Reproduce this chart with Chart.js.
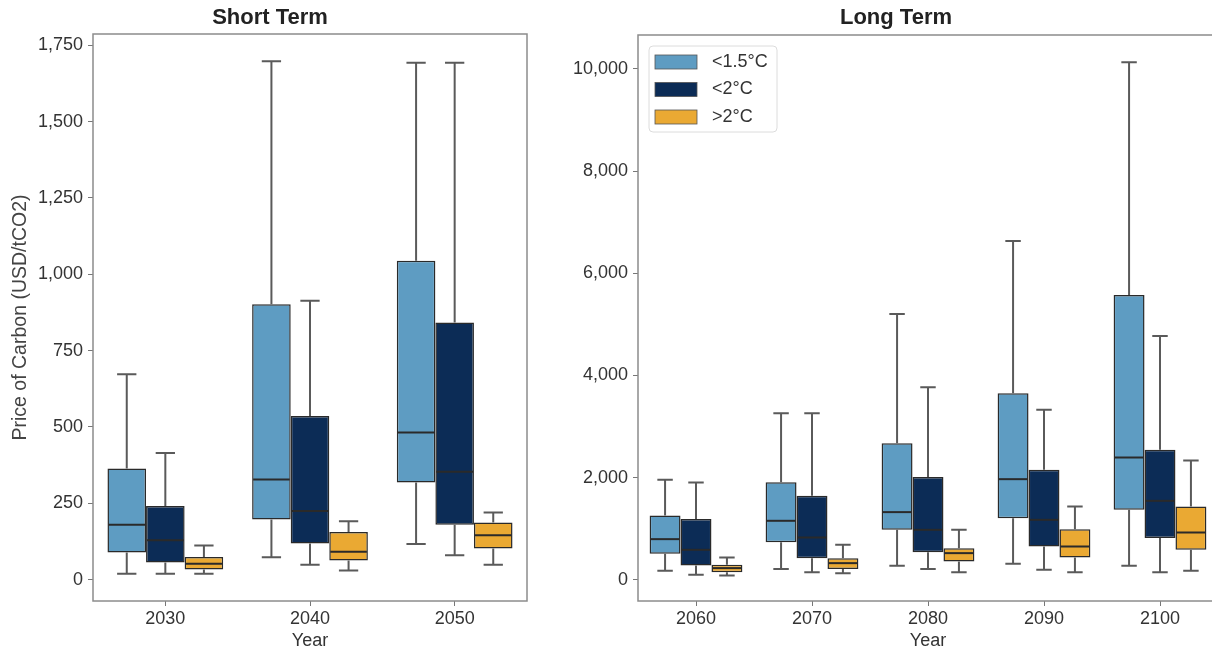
<!DOCTYPE html>
<html>
<head>
<meta charset="utf-8">
<script src="https://cdn.jsdelivr.net/npm/chart.js@4.4.1/dist/chart.umd.min.js"></script>
<style>
    html, body { margin: 0; padding: 0; background: #fff; overflow: hidden; }
    body { width: 1212px; height: 652px; position: relative; }
    .panel { position: absolute; top: 0; height: 652px; }
    #shortWrap { left: 0; width: 540px; }
    #longWrap { left: 540px; width: 680px; }
</style>
</head>
<body>
<div class="panel" id="shortWrap"><canvas id="shortChart"></canvas></div>
<div class="panel" id="longWrap"><canvas id="longChart"></canvas></div>

<script>
const seriesLabels = ['<1.5°C', '<2°C', '>2°C'];
const seriesColors = ['#5e9cc2', '#0c2c56', '#eaa933'];

// each entry: [lower whisker, Q1, median, Q3, upper whisker]
const shortYears = ['2030', '2040', '2050'];
const shortTicks = [0, 250, 500, 750, 1000, 1250, 1500, 1750];
const short15 = [[19, 89, 180, 364, 673], [73, 197, 328, 902, 1698], [117, 318, 482, 1044, 1693]];
const short2 = [[19, 56, 129, 241, 415], [49, 118, 225, 536, 913], [80, 180, 353, 842, 1693]];
const shortOver2 = [[19, 33, 52, 74, 112], [30, 63, 91, 156, 191], [49, 102, 145, 187, 220]];

const longYears = ['2060', '2070', '2080', '2090', '2100'];
const longTicks = [0, 2000, 4000, 6000, 8000, 10000];
const long15 = [[176, 509, 796, 1258, 1957], [209, 737, 1155, 1912, 3262], [274, 978, 1325, 2675, 5205], [313, 1207, 1970, 3653, 6634], [274, 1370, 2394, 5577, 10131]];
const long2 = [[98, 280, 587, 1188, 1904], [150, 424, 828, 1644, 3262], [209, 541, 978, 2010, 3771], [196, 652, 1174, 2153, 3327], [150, 816, 1546, 2544, 4775]];
const longOver2 = [[84, 150, 229, 294, 436], [130, 209, 326, 424, 685], [150, 358, 522, 620, 978], [150, 436, 652, 992, 1435], [176, 587, 926, 1435, 2335]];

Chart.defaults.font.family = "'Liberation Sans', Arial, sans-serif";
Chart.defaults.color = '#333';

// whiskers, caps and median lines on top of the floating bars
const boxPlotPlugin = {
    id: 'boxPlot',
    afterDatasetsDraw(chart) {
        const ctx = chart.ctx;
        const y = chart.scales.y;
        chart.data.datasets.forEach((ds, i) => {
            const meta = chart.getDatasetMeta(i);
            meta.data.forEach((bar, j) => {
                const [lo, q1, med, q3, hi] = ds.stats[j];
                const x = bar.x;
                const half = bar.width / 2;
                const cap = bar.width / 4;
                ctx.save();
                ctx.strokeStyle = '#5a5a5a';
                ctx.lineWidth = 2;
                ctx.beginPath();
                ctx.moveTo(x, y.getPixelForValue(q3));
                ctx.lineTo(x, y.getPixelForValue(hi));
                ctx.moveTo(x - cap, y.getPixelForValue(hi));
                ctx.lineTo(x + cap, y.getPixelForValue(hi));
                ctx.moveTo(x, y.getPixelForValue(q1));
                ctx.lineTo(x, y.getPixelForValue(lo));
                ctx.moveTo(x - cap, y.getPixelForValue(lo));
                ctx.lineTo(x + cap, y.getPixelForValue(lo));
                ctx.stroke();
                ctx.strokeStyle = '#2a2a2a';
                ctx.lineWidth = 2;
                ctx.beginPath();
                ctx.moveTo(x - half + 1, y.getPixelForValue(med));
                ctx.lineTo(x + half - 1, y.getPixelForValue(med));
                ctx.stroke();
                ctx.restore();
            });
        });
    }
};

// frame, panel title and (optionally) the legend box
const panelDecorPlugin = {
    id: 'panelDecor',
    afterDraw(chart, args, opts) {
        const ctx = chart.ctx;
        const a = chart.chartArea;
        ctx.save();
        ctx.strokeStyle = '#8c8c8c';
        ctx.lineWidth = 1.5;
        ctx.strokeRect(a.left, a.top, a.right - a.left, a.bottom - a.top);

        ctx.fillStyle = '#222';
        ctx.font = "bold 22px 'Liberation Sans', Arial, sans-serif";
        ctx.textAlign = 'center';
        ctx.textBaseline = 'middle';
        ctx.fillText(opts.title, opts.titleX, opts.titleY);

        if (opts.legend) {
            const lx = a.left + 11, ly = a.top + 11;
            ctx.fillStyle = 'rgba(255,255,255,0.85)';
            ctx.strokeStyle = '#dcdcdc';
            ctx.lineWidth = 1;
            ctx.beginPath();
            ctx.roundRect(lx, ly, 128, 86, 4);
            ctx.fill();
            ctx.stroke();
            ctx.font = "18px 'Liberation Sans', Arial, sans-serif";
            ctx.textAlign = 'left';
            chart.data.datasets.forEach((ds, i) => {
                const cy = ly + 16 + i * 27.5;
                ctx.fillStyle = ds.backgroundColor;
                ctx.fillRect(lx + 6, cy - 7, 42, 14);
                ctx.strokeStyle = '#555';
                ctx.lineWidth = 0.8;
                ctx.strokeRect(lx + 6, cy - 7, 42, 14);
                ctx.fillStyle = '#333';
                ctx.fillText(ds.label, lx + 63, cy);
            });
        }
        ctx.restore();
    }
};

function makeDatasets(groups) {
    return groups.map((stats, i) => ({
        label: seriesLabels[i],
        data: stats.map(s => [s[1], s[3]]),
        stats: stats,
        backgroundColor: seriesColors[i],
        borderColor: '#2a2a2a',
        borderWidth: 1.5,
        borderSkipped: false,
        categoryPercentage: 0.8,
        barPercentage: 1.0
    }));
}

function makeChart(canvasId, years, groups, ticks, yMin, yMax, cfg) {
    const ctx = document.getElementById(canvasId).getContext('2d');
    return new Chart(ctx, {
        type: 'bar',
        data: {
            labels: years,
            datasets: makeDatasets(groups)
        },
        options: {
            responsive: true,
            maintainAspectRatio: false,
            animation: false,
            layout: {
                padding: { top: cfg.top, right: cfg.right, left: 0, bottom: 0 }
            },
            plugins: {
                legend: { display: false },
                tooltip: { enabled: false },
                title: { display: false },
                panelDecor: {
                    title: cfg.title,
                    titleX: cfg.titleX,
                    titleY: 18,
                    legend: cfg.legend
                }
            },
            scales: {
                x: {
                    type: 'category',
                    offset: true,
                    grid: {
                        offset: false,
                        drawOnChartArea: false,
                        tickLength: 5,
                        color: '#777'
                    },
                    border: { display: false },
                    ticks: {
                        font: { size: 18 },
                        color: '#333',
                        padding: 2,
                        maxRotation: 0
                    },
                    title: {
                        display: true,
                        text: 'Year',
                        font: { size: 18 },
                        color: '#333',
                        padding: { top: 0, bottom: 0 }
                    },
                    afterFit: s => { s.height = 51; }
                },
                y: {
                    type: 'linear',
                    min: yMin,
                    max: yMax,
                    afterBuildTicks: s => { s.ticks = ticks.map(v => ({ value: v })); },
                    grid: {
                        drawOnChartArea: false,
                        tickLength: 5,
                        color: '#777'
                    },
                    border: { display: false },
                    ticks: {
                        font: { size: 18 },
                        color: '#333',
                        padding: 5,
                        callback: v => v.toLocaleString('en-US')
                    },
                    title: {
                        display: cfg.yTitle !== '',
                        text: cfg.yTitle,
                        font: { size: 19.5 },
                        color: '#444',
                        padding: { top: 9, bottom: 0 }
                    },
                    afterFit: s => { s.width = cfg.yWidth; }
                }
            }
        },
        plugins: [boxPlotPlugin, panelDecorPlugin]
    });
}

makeChart('shortChart', shortYears, [short15, short2, shortOver2], shortTicks, -70, 1787, {
    top: 34, right: 13, yWidth: 93,
    title: 'Short Term', titleX: 270,
    yTitle: 'Price of Carbon (USD/tCO2)',
    legend: false
});

makeChart('longChart', longYears, [long15, long2, longOver2], longTicks, -415, 10665, {
    top: 35, right: 2, yWidth: 98,
    title: 'Long Term', titleX: 356,
    yTitle: '',
    legend: true
});
</script>
</body>
</html>
